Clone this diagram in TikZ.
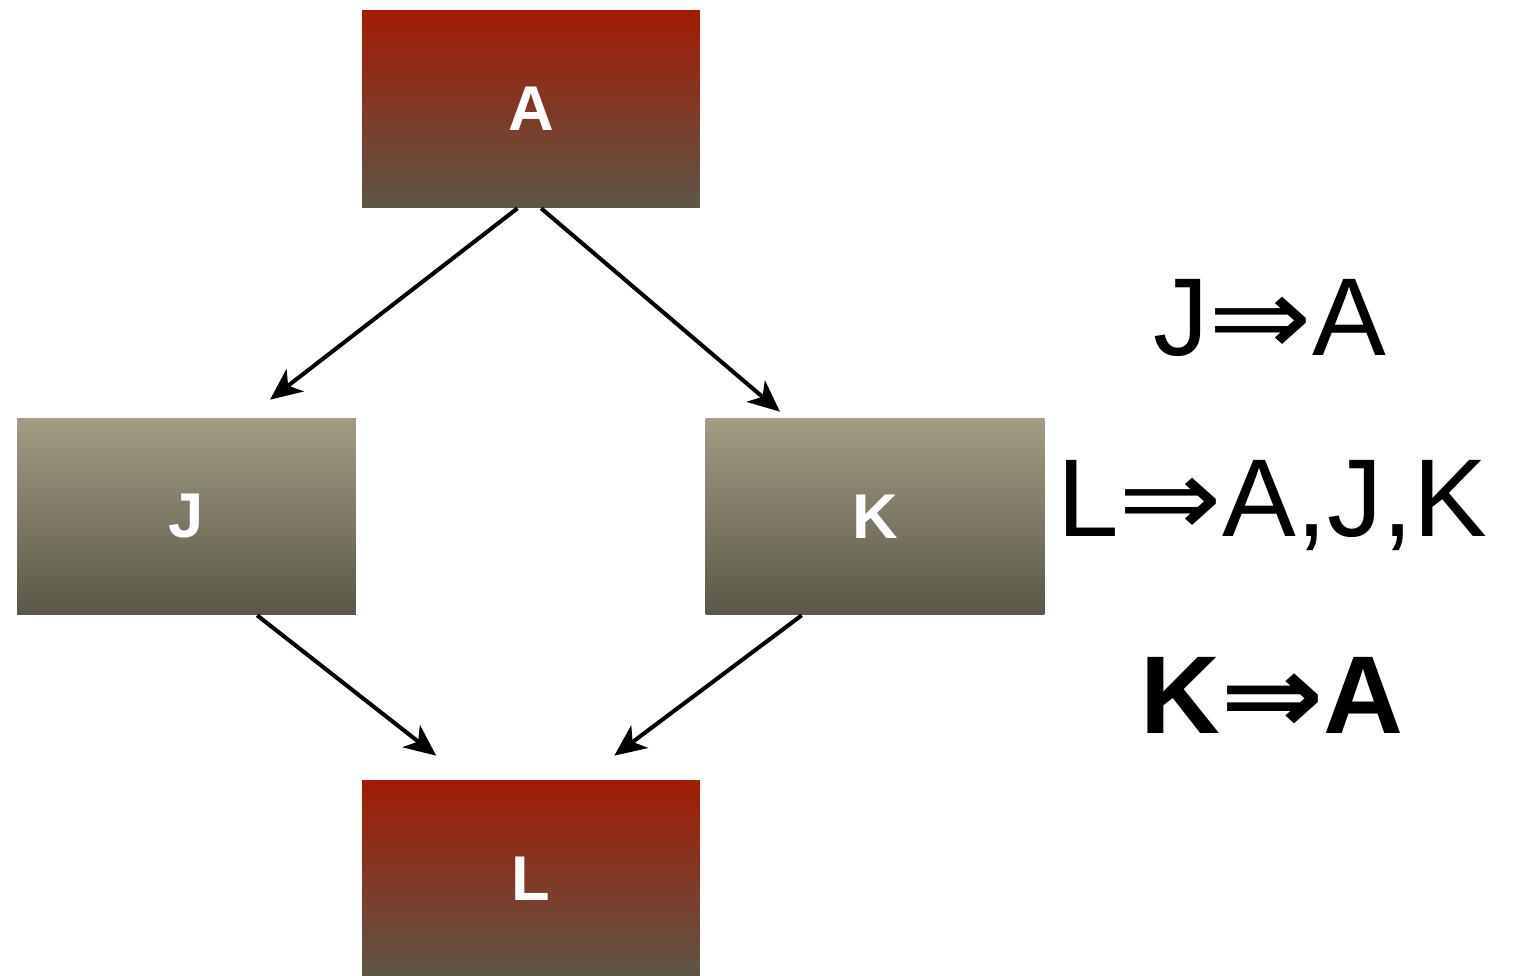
\documentclass[tikz,border=0pt]{standalone}
\usepackage{fontspec}
\setmainfont{Liberation Sans}
\newfontfamily\arrfont{DejaVu Sans}
\usetikzlibrary{arrows.meta,calc}
\definecolor{redtop}{HTML}{A21C05}
\definecolor{redbot}{HTML}{5E5647}
\definecolor{graytop}{HTML}{A29C84}
\definecolor{graybot}{HTML}{5A5748}
\begin{document}
\begin{tikzpicture}[x=0.02cm,y=-0.02cm,
  redbox/.style={rectangle,inner sep=0pt,minimum width=6.76cm,minimum height=3.96cm,
    top color=redtop,bottom color=redbot,text=white,font=\fontsize{36}{40}\selectfont\bfseries},
  graybox/.style={rectangle,inner sep=0pt,minimum width=6.78cm,minimum height=3.94cm,
    top color=graytop,bottom color=graybot,text=white,font=\fontsize{36}{40}\selectfont\bfseries},
  conn/.style={line width=2.3pt,-{Stealth[length=18pt,width=16pt,inset=5pt]}},
  rule/.style={inner sep=0pt,font=\fontsize{63}{70}\selectfont}]
\useasboundingbox (0,0) rectangle (1518,976);
\node[redbox] (A) at (531,109) {A};
\node[graybox] (J) at (186.5,516.5) {J};
\node[graybox] (K) at (875,516.5) {K};
\node[redbox] (L) at (531,879) {L};
\node[rule] (r1) at (1270,318) {J{\arrfont\scalebox{1.12}[1]{⇒}}A};
\node[rule] (r2) at (1272,506) {L{\arrfont\scalebox{1.12}[1]{⇒}}A,J,K};
\node[rule,font=\fontsize{63}{70}\selectfont\bfseries] (r3) at (1272,695) {K{\arrfont\bfseries\scalebox{1.12}[1]{⇒}}A};
\draw[conn] ($(A.south west)!0.46!(A.south east)$) -- ($(J.north west)!0.746!(J.north east)+(0,-18)$);
\draw[conn] ($(A.south west)!0.53!(A.south east)$) -- ($(K.north west)!0.22!(K.north east)+(0,-6)$);
\draw[conn] ($(J.south west)!0.708!(J.south east)$) -- ($(L.north west)!0.22!(L.north east)+(0,-24)$);
\draw[conn] ($(K.south west)!0.284!(K.south east)$) -- ($(L.north west)!0.746!(L.north east)+(0,-24)$);
\end{tikzpicture}
\end{document}
